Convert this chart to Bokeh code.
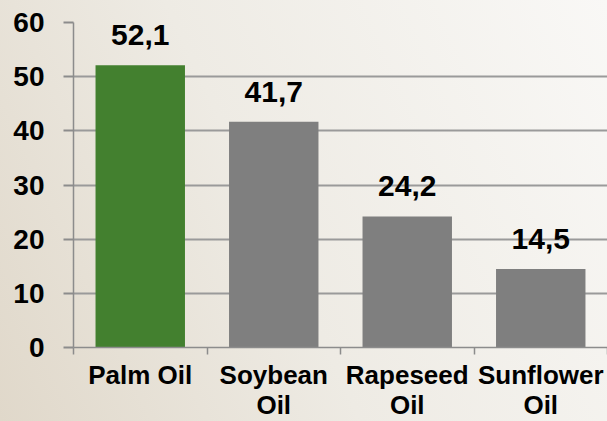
import numpy as np
from bokeh.plotting import figure
from bokeh.models import ColumnDataSource, Range1d, FixedTicker, GlobalInlineStyleSheet
from bokeh.core.properties import value
from bokeh.embed import file_html
from bokeh.resources import INLINE

categories = ["Palm Oil", "Soybean\nOil", "Rapeseed\nOil", "Sunflower\nOil"]
values = [52.1, 41.7, 24.2, 14.5]
value_labels = ["52,1", "41,7", "24,2", "14,5"]
bar_colors = ["#43802f", "#7f7f7f", "#7f7f7f", "#7f7f7f"]
y_ticks = [0, 10, 20, 30, 40, 50, 60]

centers = list(np.arange(len(categories)) + 0.5)
bounds = list(range(len(categories) + 1))

source = ColumnDataSource(dict(x=centers, top=values, label=value_labels, color=bar_colors))

FONT = "Liberation Sans"
AX = "#8c8c8c"

page_css = GlobalInlineStyleSheet(css="html, body { overflow: hidden !important; margin: 0; }")

p = figure(frame_width=534, frame_height=325, output_backend="svg", toolbar_location=None,
           x_range=Range1d(0, len(categories)), y_range=Range1d(0, 60),
           min_border_left=73, min_border_right=0, min_border_top=22, min_border_bottom=74,
           background_fill_alpha=0, border_fill_alpha=0, outline_line_color=None,
           stylesheets=[page_css],
           styles={"background": "linear-gradient(65deg, #e0d8ca 0%, #eeebe4 45%, #f9f8f6 100%)"})

p.vbar(x="x", top="top", width=0.67, source=source, fill_color="color", line_color=None)
p.text(x="x", y="top", text="label", source=source, text_align="center",
       text_baseline="alphabetic", y_offset=-30, text_font=value(FONT),
       text_font_style="bold", text_font_size="30px", text_color="black")

p.xgrid.visible = False
p.ygrid.ticker = FixedTicker(ticks=y_ticks)
p.ygrid.grid_line_color = "#9a9a9a"
p.ygrid.grid_line_width = 2

xa = p.xaxis[0]
xa.ticker = FixedTicker(ticks=centers, minor_ticks=bounds)
xa.major_label_overrides = {c: lab for c, lab in zip(centers, categories)}
xa.major_tick_in = 0
xa.major_tick_out = 0
xa.minor_tick_in = 0
xa.minor_tick_out = 7
xa.minor_tick_line_color = AX
xa.axis_line_color = AX
xa.axis_line_width = 1.5
xa.minor_tick_line_width = 1.5
xa.major_label_standoff = 5
xa.major_label_text_font = FONT
xa.major_label_text_font_style = "bold"
xa.major_label_text_font_size = "26px"
xa.major_label_text_color = "black"
xa.major_label_text_line_height = 1.0

ya = p.yaxis[0]
ya.ticker = FixedTicker(ticks=y_ticks)
ya.major_tick_in = 0
ya.major_tick_out = 10
ya.minor_tick_in = 0
ya.minor_tick_out = 0
ya.major_tick_line_color = AX
ya.major_tick_line_width = 2
ya.axis_line_color = AX
ya.axis_line_width = 1.5
ya.major_label_standoff = 19
ya.major_label_text_font = FONT
ya.major_label_text_font_style = "bold"
ya.major_label_text_font_size = "28px"
ya.major_label_text_color = "black"

open("out.html", "w").write(file_html(p, INLINE))
